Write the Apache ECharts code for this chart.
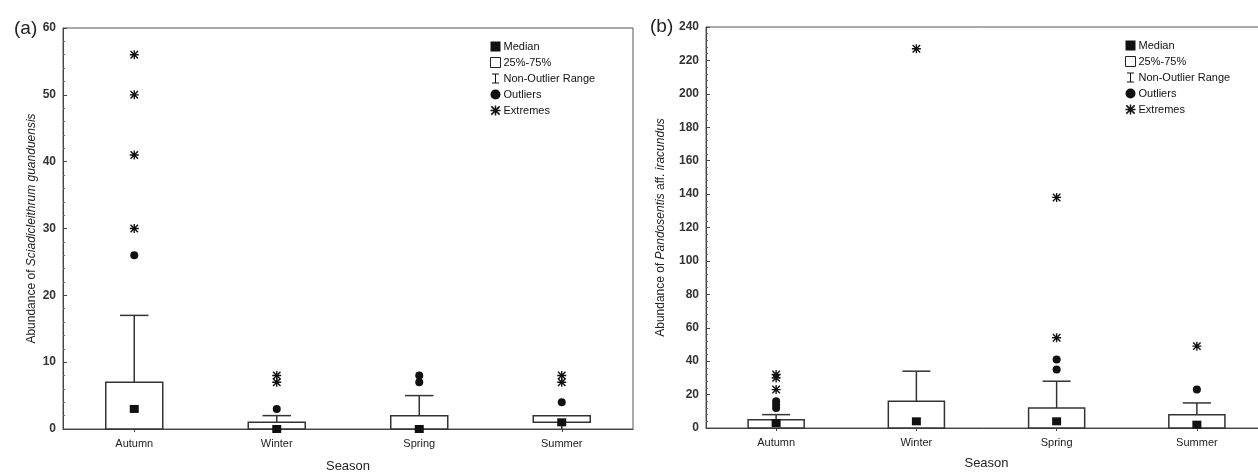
<!DOCTYPE html>
<html>
<head>
<meta charset="utf-8">
<script src="https://cdn.jsdelivr.net/npm/echarts@6/dist/echarts.min.js"></script>
<style>
  html, body { margin: 0; padding: 0; background: #fff; }
  #main { width: 1258px; height: 474px; }
</style>
</head>
<body>
<div id="main"></div>
<script>
// seasons on the x axis of both panels
var seasons = ['Autumn', 'Winter', 'Spring', 'Summer'];

// (a) Sciadicleithrum guanduensis
var boxLowA = [0, 0, 0, 1];
var boxHighA = [7, 1, 2, 2];
var medianA = [3, 0, 0, 1];
var whiskLowA = [0, 0, 0, 0];
var whiskHighA = [17, 2, 5, 2];
var outliersA = [[0, 26], [1, 3], [2, 7], [2, 8], [3, 4]];
var extremesA = [[0, 30], [0, 41], [0, 50], [0, 56], [1, 7], [1, 8], [3, 7], [3, 8]];

// (b) Pandosentis aff. iracundus
var boxLowB = [0, 0, 0, 0];
var boxHighB = [5, 16, 12, 8];
var medianB = [3, 4, 4, 2];
var whiskLowB = [0, 0, 0, 0];
var whiskHighB = [8, 34, 28, 15];
var outliersB = [[0, 12], [0, 14], [0, 16], [2, 35], [2, 41], [3, 23]];
var extremesB = [[0, 23], [0, 30], [0, 32], [1, 227], [2, 54], [2, 138], [3, 49]];

var yTicksA = { min: 0, max: 60, interval: 10 };
var yTicksB = { min: 0, max: 240, interval: 20 };

var INK = '#111';
var FONT = 'Liberation Sans, Arial, sans-serif';
var starPath = 'path://M4.25,0h1.5v10h-1.5z M0,4.25h10v1.5h-10z M0.3,1.4L1.4,0.3L9.7,8.6L8.6,9.7z M8.6,0.3L9.7,1.4L1.4,9.7L0.3,8.6z';
var rangePath = 'path://M0,0H10V1.4H5.7V12.6H10V14H0V12.6H4.3V1.4H0Z';

var renderBox = function(params, api) {
	var i = api.value(0);
	var lo = api.coord([i, api.value(1)]);
	var hi = api.coord([i, api.value(2)]);
	var w = api.size([1, 0])[0] * 0.4;
	return {
		type: 'rect',
		shape: { x: lo[0] - w / 2, y: hi[1], width: w, height: lo[1] - hi[1] },
		style: { fill: '#fff', stroke: '#333', lineWidth: 1.5 }
	};
};

var renderWhisker = function(params, api) {
	var i = api.value(0);
	var boxTop = api.coord([i, api.value(1)]);
	var top = api.coord([i, api.value(2)]);
	var boxLow = api.coord([i, api.value(3)]);
	var low = api.coord([i, api.value(4)]);
	var c = api.size([1, 0])[0] * 0.1;
	var st = { stroke: '#333', lineWidth: 1.5 };
	var kids = [];
	if (top[1] < boxTop[1] - 0.5) {
		kids.push({ type: 'line', shape: { x1: top[0], y1: boxTop[1], x2: top[0], y2: top[1] }, style: st });
		kids.push({ type: 'line', shape: { x1: top[0] - c, y1: top[1], x2: top[0] + c, y2: top[1] }, style: st });
	}
	if (low[1] > boxLow[1] + 0.5) {
		kids.push({ type: 'line', shape: { x1: low[0], y1: boxLow[1], x2: low[0], y2: low[1] }, style: st });
	}
	return { type: 'group', children: kids };
};

var makeSeries = function(gi, boxLow, boxHigh, median, whiskLow, whiskHigh, outliers, extremes) {
	var boxData = [], whiskData = [], medData = [];
	for (var i = 0; i < seasons.length; i++) {
		boxData.push([i, boxLow[i], boxHigh[i]]);
		whiskData.push([i, boxHigh[i], whiskHigh[i], boxLow[i], whiskLow[i]]);
		medData.push([i, median[i]]);
	}
	return [
		{ name: '25%-75%', type: 'custom', xAxisIndex: gi, yAxisIndex: gi, renderItem: renderBox,
		  encode: { x: 0, y: [1, 2] }, data: boxData, z: 2, itemStyle: { color: '#fff', borderColor: '#333' } },
		{ name: 'Non-Outlier Range', type: 'custom', xAxisIndex: gi, yAxisIndex: gi, renderItem: renderWhisker,
		  encode: { x: 0, y: [1, 2] }, data: whiskData, z: 2, itemStyle: { color: INK } },
		{ name: 'Median', type: 'scatter', xAxisIndex: gi, yAxisIndex: gi, symbol: 'rect', symbolSize: [9, 8],
		  data: medData, z: 5, itemStyle: { color: INK, opacity: 1 } },
		{ name: 'Outliers', type: 'scatter', xAxisIndex: gi, yAxisIndex: gi, symbol: 'circle', symbolSize: 8,
		  data: outliers, z: 5, itemStyle: { color: INK, opacity: 1 } },
		{ name: 'Extremes', type: 'scatter', xAxisIndex: gi, yAxisIndex: gi, symbol: starPath, symbolSize: 9,
		  data: extremes, z: 5, itemStyle: { color: INK, opacity: 1 } }
	];
};

var legendData = [
	{ name: 'Median', icon: 'rect', itemStyle: { color: INK } },
	{ name: '25%-75%', icon: 'rect', itemStyle: { color: '#fff', borderColor: '#222', borderWidth: 1 } },
	{ name: 'Non-Outlier Range', icon: rangePath, itemStyle: { color: INK } },
	{ name: 'Outliers', icon: 'circle', itemStyle: { color: INK } },
	{ name: 'Extremes', icon: starPath, itemStyle: { color: INK } }
];

var makeLegend = function(left, top) {
	return {
		orient: 'vertical', left: left, top: top,
		itemWidth: 10, itemHeight: 10, itemGap: 5, padding: 0,
		selectedMode: false,
		textStyle: { fontFamily: FONT, fontSize: 11, color: '#111', padding: [0, 0, 0, -2] },
		data: legendData
	};
};

var xAxisCfg = function(gi, gap) {
	return {
		type: 'category', gridIndex: gi, data: seasons,
		name: 'Season', nameLocation: 'middle', nameGap: gap,
		nameTextStyle: { fontFamily: FONT, fontSize: 13, color: '#222' },
		axisLine: { lineStyle: { color: '#444', width: 1 } },
		axisTick: { show: true, alignWithLabel: true, length: 3, lineStyle: { color: '#444' } },
		axisLabel: { fontFamily: FONT, fontSize: 11, color: '#222', margin: 9 },
		splitLine: { show: false }
	};
};

var yAxisCfg = function(gi, ticks, name, rich, gap) {
	return {
		type: 'value', gridIndex: gi, min: ticks.min, max: ticks.max, interval: ticks.interval,
		name: name, nameLocation: 'middle', nameGap: gap,
		nameTextStyle: { fontFamily: FONT, fontSize: 12, color: '#222', rich: rich },
		axisLine: { show: true, lineStyle: { color: '#444', width: 1 } },
		axisTick: { show: true, inside: true, length: 4, lineStyle: { color: '#444' } },
		minorTick: { show: true, splitNumber: 5, length: 2, lineStyle: { color: '#666' } },
		axisLabel: { fontFamily: FONT, fontSize: 12, fontWeight: 'bold', color: '#333', margin: 7 },
		splitLine: { show: false }
	};
};

var richName = {
	n: { fontFamily: FONT, fontSize: 12, color: '#222' },
	i: { fontFamily: FONT, fontSize: 12, fontStyle: 'italic', color: '#222' }
};

var chart = echarts.init(document.getElementById('main'), null, { renderer: 'canvas' });

var option = {
	backgroundColor: '#fff',
	animation: false,
	title: [
		{ text: '(a)', left: 9, top: 14, textStyle: { fontFamily: FONT, fontSize: 19, fontWeight: 'normal', color: '#222' } },
		{ text: '(b)', left: 645, top: 12, textStyle: { fontFamily: FONT, fontSize: 19, fontWeight: 'normal', color: '#222' } }
	],
	legend: [makeLegend(490, 41), makeLegend(1125, 40)],
	grid: [
		{ left: 63, right: 625, top: 28, bottom: 45, show: true, borderColor: '#555', borderWidth: 1, outerBoundsMode: 'none' },
		{ left: 706, right: -9, top: 27, bottom: 46, show: true, borderColor: '#555', borderWidth: 1, outerBoundsMode: 'none' }
	],
	xAxis: [xAxisCfg(0, 31), xAxisCfg(1, 29)],
	yAxis: [
		yAxisCfg(0, yTicksA, '{n|Abundance of }{i|Sciadicleithrum guanduensis}', richName, 25),
		yAxisCfg(1, yTicksB, '{n|Abundance of }{i|Pandosentis}{n| aff. }{i|iracundus}', richName, 39)
	],
	series: makeSeries(0, boxLowA, boxHighA, medianA, whiskLowA, whiskHighA, outliersA, extremesA)
		.concat(makeSeries(1, boxLowB, boxHighB, medianB, whiskLowB, whiskHighB, outliersB, extremesB))
};

chart.setOption(option);
</script>
</body>
</html>
